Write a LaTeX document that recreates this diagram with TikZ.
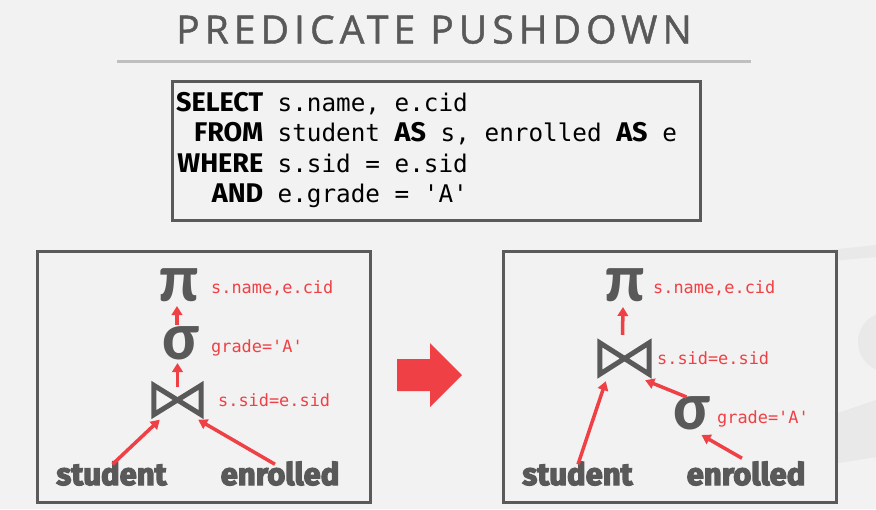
\documentclass[tikz,border=0pt]{standalone}
\usepackage{fontspec}
\usetikzlibrary{arrows.meta}

\setmainfont{Open Sans}
\IfFontExistsTF{Open Sans SemiBold}
  {\newfontfamily\titlefont{Open Sans SemiBold}[LetterSpace=13]}
  {\newfontfamily\titlefont{Open Sans}[LetterSpace=13, FakeBold=1.2]}
\newfontfamily\codefont{DejaVu Sans Mono}
\newfontfamily\kwfont{Fira Sans}
\newfontfamily\greekfont{Carlito}
\newfontfamily\heavyfont{Fira Sans Bold}[FakeBold=4]

\definecolor{bgc}{HTML}{F2F2F2}
\definecolor{ink}{HTML}{595959}
\definecolor{frame}{HTML}{5A5A5A}
\definecolor{rulec}{HTML}{BFBFBF}
\definecolor{accent}{HTML}{EF4145}
\definecolor{wm}{HTML}{E9E9E9}

\tikzset{
  panel/.style={draw=frame, line width=3pt, fill=bgc, anchor=north west,
    minimum width=333pt, minimum height=251pt, inner sep=0},
  kw/.style={anchor=base east, inner sep=0, text=black,
    font=\kwfont\bfseries\fontsize{27}{27}\selectfont},
  code/.style={anchor=base west, inner sep=0, text=black,
    font=\codefont\fontsize{24.3}{24.3}\selectfont},
  lbl/.style={anchor=base west, inner sep=0, text=accent,
    font=\codefont\fontsize{16.9}{16.9}\selectfont},
  op/.style={inner sep=0, text=ink, text height=31pt, text depth=0pt,
    font=\greekfont\bfseries\fontsize{68}{68}\selectfont},
  joinop/.style={inner sep=0, minimum width=47pt, minimum height=29pt},
  bowtie/.style={draw=ink, line width=5pt, line join=miter},
  rel/.style={anchor=base, inner sep=0, text=ink,
    font=\heavyfont\fontsize{31}{31}\selectfont},
  rarrow/.style={draw=accent, line width=3.5pt,
    -{Triangle[length=9pt,width=10.5pt]}},
}
\newcommand{\sqlkw}[1]{{\kwfont\bfseries\fontsize{27}{27}\selectfont #1}}

\begin{document}
\begin{tikzpicture}[x=1pt,y=-1pt]
  % page
  \fill[bgc] (0,0) rectangle (876,509);
  \useasboundingbox (0,0) rectangle (876,509);

  % faint logo shapes behind the right panel
  \fill[wm] (820,251) -- (876,245) -- (876,257) -- (820,262) -- cycle;
  \fill[wm] (888,342) circle (30);
  \fill[wm] (820,419) -- (876,400) -- (876,457) -- (820,466) -- cycle;

  % heading
  \node[anchor=base, inner sep=0, text=ink,
        font=\titlefont\fontsize{39}{39}\selectfont] (title) at (434,43.5)
        {PREDICATE PUSHDOWN};
  \draw[rulec, line width=3pt] (117,61.5) -- (751,61.5);

  % query
  \node[draw=frame, line width=2.5pt, fill=bgc, anchor=north west,
        minimum width=528pt, minimum height=139pt, inner sep=0] (sql) at (171,80) {};
  \node[kw] (k1) at (263.5,111) {SELECT};
  \node[kw] (k2) at (263.5,141.5) {FROM};
  \node[kw] (k3) at (263.5,172) {WHERE};
  \node[kw] (k4) at (263.5,202.5) {AND};
  \node[code] (c1) at (277.5,111) {s.name, e.cid};
  \node[code] (c2) at (277.5,141.5) {student \sqlkw{AS} s, enrolled \sqlkw{AS} e};
  \node[code] (c3) at (277.5,172) {s.sid = e.sid};
  \node[code] (c4) at (277.5,202.5) {e.grade = 'A'};

  % ---------- plan before pushdown ----------
  \node[panel] (pL) at (35.5,249.5) {};
  \node[op] (piL) at (179.5,286) {π};
  \node[op] (sgL) at (181,343.5) {σ};
  \node[joinop] (jL) at (177.5,400) {};
  \draw[bowtie] (jL.north west) -- (jL.south east) -- (jL.north east)
                -- (jL.south west) -- cycle;
  \node[lbl] (lpiL) at (211,293) {s.name,e.cid};
  \node[lbl] (lsgL) at (211,352) {grade='A'};
  \node[lbl] (ljL)  at (218,406) {s.sid=e.sid};
  \node[rel] (stL) at (111.5,485) {student};
  \node[rel] (enL) at (280,485) {enrolled};

  \draw[rarrow] ([shift={(1,3)}]stL.north) -- ([shift={(6,5)}]jL.south west);
  \draw[rarrow] ([shift={(-5,3)}]enL.north) -- ([shift={(-3,5)}]jL.south east);
  \draw[rarrow] ([yshift=-2]jL.north) -- ([shift={(-3.5,19.5)}]sgL.center);
  \draw[rarrow] ([shift={(-4,-18.5)}]sgL.center) -- ([shift={(-2.5,20)}]piL.center);

  % ---------- plan after pushdown ----------
  \node[panel] (pR) at (501.5,249.5) {};
  \node[op] (piR) at (625,286) {π};
  \node[joinop, minimum width=49pt, minimum height=31pt] (jR) at (624.5,358.5) {};
  \draw[bowtie] (jR.north west) -- (jR.south east) -- (jR.north east)
                -- (jR.south west) -- cycle;
  \node[op] (sgR) at (692.5,414) {σ};
  \node[lbl] (lpiR) at (653,293) {s.name,e.cid};
  \node[lbl] (ljR)  at (657,364) {s.sid=e.sid};
  \node[lbl] (lsgR) at (717,423) {grade='A'};
  \node[rel] (stR) at (577.5,485) {student};
  \node[rel] (enR) at (746,485) {enrolled};

  \draw[rarrow] ([shift={(0.5,3)}]stR.north) -- ([shift={(6,7)}]jR.south west);
  \draw[rarrow] ([shift={(-4,-3)}]enR.north) -- ([shift={(9,21)}]sgR.center);
  \draw[rarrow] ([shift={(-6,-17)}]sgR.center) -- ([shift={(-4,6)}]jR.south east);
  \draw[rarrow] ([shift={(-2,-8)}]jR.north) -- ([shift={(-2,21)}]piR.center);

  % transformation arrow
  \fill[accent] (397,359) -- (430,359) -- (430,343) -- (462,375)
                -- (430,407) -- (430,391) -- (397,391) -- cycle;
\end{tikzpicture}
\end{document}
